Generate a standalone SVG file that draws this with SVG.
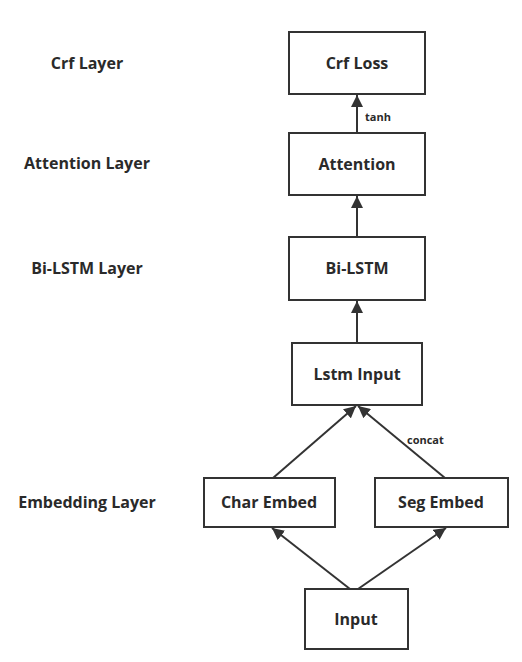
<svg xmlns="http://www.w3.org/2000/svg" width="522" height="662" viewBox="0 0 522 662">
<style>
.box{fill:#fff;stroke:#333;stroke-width:2}
.t{font-family:"Open Sans","Noto Sans",sans-serif;font-weight:bold;font-size:16px;fill:#2a2a2a;text-anchor:middle}
.s{font-family:"Open Sans","Noto Sans",sans-serif;font-weight:bold;font-size:11px;fill:#2a2a2a}
.c{stroke:#333;stroke-width:2;fill:none;marker-end:url(#ah)}
</style>
<defs>
<marker id="ah" viewBox="0 0 10 10" refX="10" refY="5" markerWidth="6" markerHeight="6" markerUnits="strokeWidth" orient="auto">
<path d="M0,0 L10,5 L0,10 z" fill="#333"/>
</marker>
</defs>
<rect width="522" height="662" fill="#fff"/>
<g id="labels">
<text class="t" x="87" y="69">Crf Layer</text>
<text class="t" x="87" y="169">Attention Layer</text>
<text class="t" x="87" y="274">Bi-LSTM Layer</text>
<text class="t" x="87" y="508">Embedding Layer</text>
</g>
<g id="connectors">
<line class="c" x1="357" y1="133" x2="357" y2="95"/>
<line class="c" x1="357" y1="237" x2="357" y2="196"/>
<line class="c" x1="357" y1="343" x2="357" y2="301"/>
<line class="c" x1="273" y1="478" x2="356" y2="406"/>
<line class="c" x1="445" y1="478" x2="358" y2="406"/>
<line class="c" x1="350" y1="589" x2="272" y2="528"/>
<line class="c" x1="358" y1="589" x2="446" y2="528"/>
<text class="s" x="365" y="121">tanh</text>
<text class="s" x="407" y="444">concat</text>
</g>
<g id="crf"><rect class="box" x="289" y="32" width="136" height="62"/><text class="t" x="357" y="69">Crf Loss</text></g>
<g id="attention"><rect class="box" x="289" y="133" width="136" height="62"/><text class="t" x="357" y="170">Attention</text></g>
<g id="bilstm"><rect class="box" x="289" y="237" width="136" height="63"/><text class="t" x="357" y="274">Bi-LSTM</text></g>
<g id="lstminput"><rect class="box" x="292" y="343" width="130" height="62"/><text class="t" x="357" y="380">Lstm Input</text></g>
<g id="charembed"><rect class="box" x="204" y="478" width="131" height="49"/><text class="t" x="269" y="508">Char Embed</text></g>
<g id="segembed"><rect class="box" x="375" y="478" width="133" height="49"/><text class="t" x="441" y="508">Seg Embed</text></g>
<g id="input"><rect class="box" x="305" y="589" width="103" height="60"/><text class="t" x="356" y="625">Input</text></g>
</svg>
